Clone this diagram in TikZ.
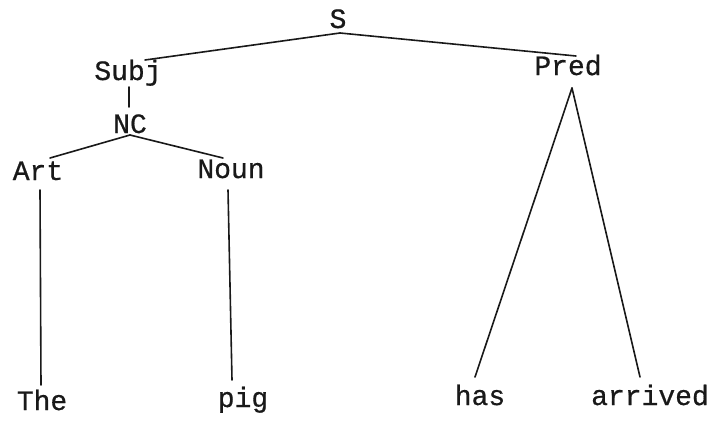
\documentclass[tikz,border=0pt]{standalone}
\usepackage{fontspec}
\setmonofont{Liberation Mono}[FakeBold=0.6]
\usetikzlibrary{calc}
\tikzset{
  lbl/.style={anchor=base, inner sep=0pt, font=\ttfamily\fontsize{28}{28}\selectfont, text=black!90},
  edge/.style={draw=black!90, line width=1.6pt, line cap=round}
}
\begin{document}
\begin{tikzpicture}[x=1pt,y=-1pt]
\useasboundingbox[fill=white] (0,0) rectangle (712,423);
\node[lbl] (S) at (338,28) {S};
\node[lbl] (Subj) at (128,80) {Subj};
\node[lbl] (Pred) at (568,75) {Pred};
\node[lbl] (NC) at (130,133) {NC};
\node[lbl] (Art) at (38,180) {Art};
\node[lbl] (Noun) at (231,178) {Noun};
\node[lbl] (The) at (42,410) {The};
\node[lbl] (pig) at (243,407) {pig};
\node[lbl] (has) at (480,405) {has};
\node[lbl] (arrived) at (650,405) {arrived};

\draw[edge] ($(S.base)+(2,5)$) -- ($(Subj.base)+(17,-20)$);
\draw[edge] ($(S.base)+(2,5)$) -- ($(Pred.base)+(8,-19)$);
\draw[edge] ($(Subj.base)+(1,7)$) -- ($(NC.base)+(-1,-26)$);
\draw[edge] ($(NC.base)+(0,2)$) -- ($(Art.base)+(12,-22)$);
\draw[edge] ($(NC.base)+(0,2)$) -- ($(Noun.base)+(-8,-20)$);
\draw[edge] ($(Art.base)+(2,10)$) -- ($(The.base)+(-1,-25)$);
\draw[edge] ($(Noun.base)+(-3,12)$) -- ($(pig.base)+(-11,-27)$);
\draw[edge] ($(Pred.base)+(4,13)$) -- ($(has.base)+(-5,-28)$);
\draw[edge] ($(Pred.base)+(4,13)$) -- ($(arrived.base)+(-10,-28)$);
\end{tikzpicture}
\end{document}
